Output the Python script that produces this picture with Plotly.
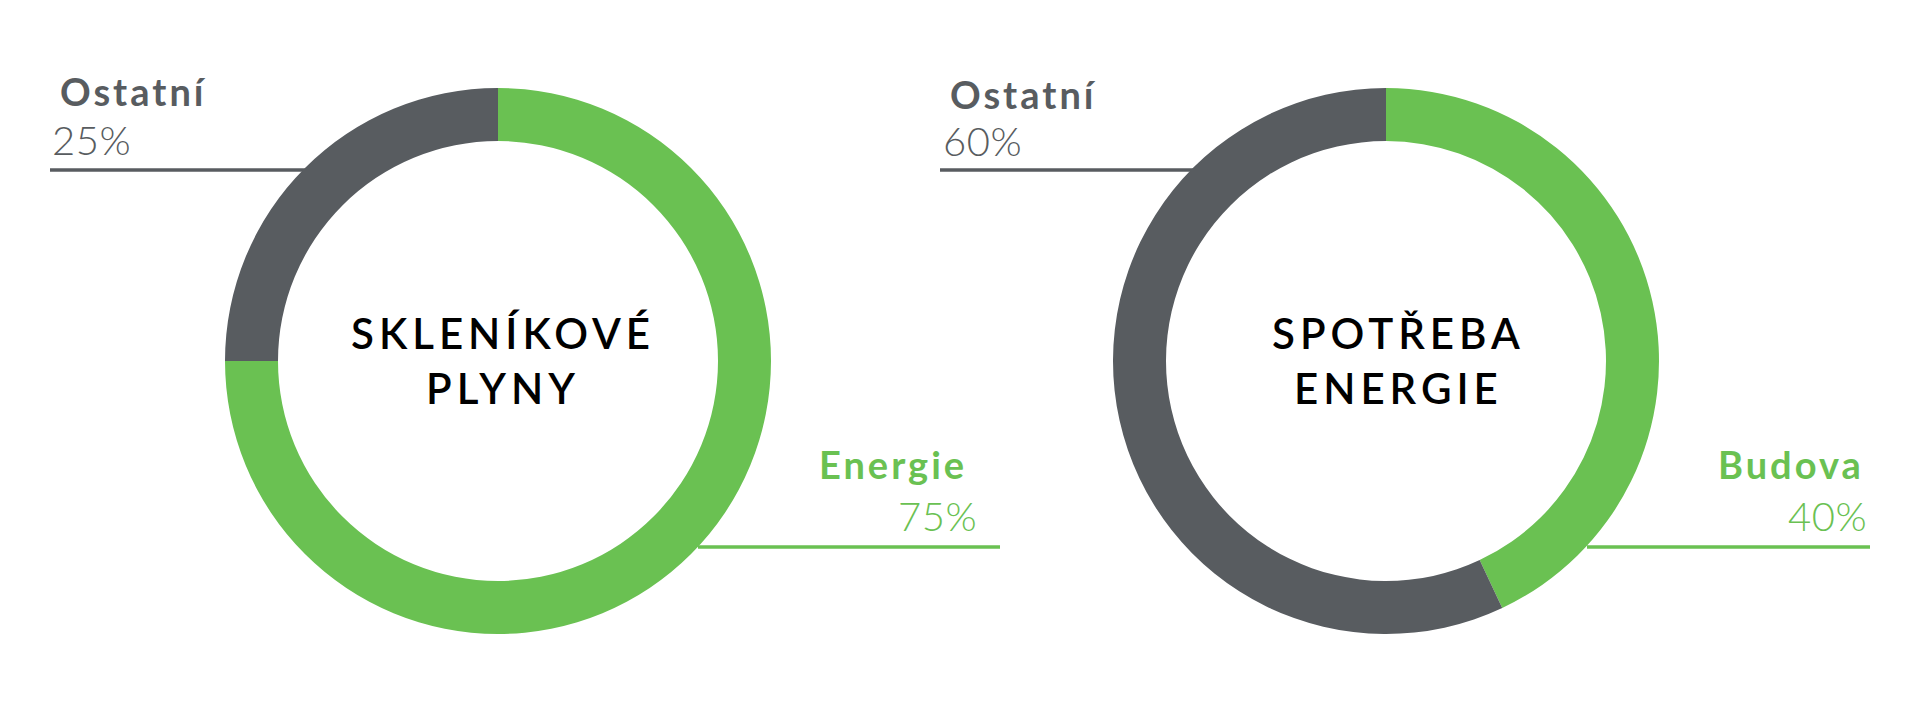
import plotly.graph_objects as go

# ---- data ----
left_labels = ["Energie", "Ostatní"]
left_values = [75, 25]
left_pct_text = ["75%", "25%"]
left_title = ["SKLENÍKOVÉ", "PLYNY"]

right_labels = ["Budova", "Ostatní"]
right_values = [43, 57]          # drawn arc proportions
right_pct_text = ["40%", "60%"]
right_title = ["SPOTŘEBA", "ENERGIE"]

GREEN = "#6AC152"
GRAY = "#585C60"
colors = [GREEN, GRAY]

OFF = 8                      # browser body margin
W, H = 1920 - 2 * OFF, 720 - 2 * OFF
R_OUT = 273
R_IN = 220


def px(x):
    return (x - OFF) / W


def py(y):
    return 1 - (y - OFF) / H


def domain(cx, cy, r):
    return dict(x=[px(cx - r), px(cx + r)], y=[py(cy + r), py(cy - r)])


LC = (498, 361)
RC = (1386, 361)

fig = go.Figure()
for (cx, cy), labels, values in [(LC, left_labels, left_values), (RC, right_labels, right_values)]:
    fig.add_trace(go.Pie(
        labels=labels, values=values, hole=R_IN / R_OUT,
        sort=False, direction="clockwise", rotation=0,
        marker=dict(colors=colors, line=dict(width=0)),
        textinfo="none", showlegend=False, hoverinfo="label+value",
        domain=domain(cx, cy, R_OUT),
    ))

FONT = "Lato"
LBL = 38
PCT = 40
LS_LBL = 3


def sp(text, ls):
    return f'<span style="letter-spacing:{ls}px">{text}</span>'


ann = []
shapes = []

# left chart labels
ann.append(dict(text=sp(left_labels[1], LS_LBL), x=px(58), y=py(91), xanchor="left", yanchor="middle",
                font=dict(family=FONT, size=LBL, color=GRAY, weight=700)))
ann.append(dict(text=sp(left_pct_text[1], 0.5), x=px(50), y=py(140), xanchor="left", yanchor="middle",
                font=dict(family=FONT, size=PCT, color=GRAY, weight=300)))
ann.append(dict(text=sp(left_labels[0], LS_LBL), x=px(969), y=py(464), xanchor="right", yanchor="middle",
                font=dict(family=FONT, size=LBL, color=GREEN, weight=700)))
ann.append(dict(text=sp(left_pct_text[0], 0.5), x=px(979), y=py(516), xanchor="right", yanchor="middle",
                font=dict(family=FONT, size=PCT, color=GREEN, weight=300)))
ann.append(dict(text=sp(left_title[0], 5) + "<br>" + sp(left_title[1], 5), x=px(503), y=py(360),
                xanchor="center", yanchor="middle", align="center",
                font=dict(family=FONT, size=42, color="#000000", weight=600)))

# right chart labels
ann.append(dict(text=sp(right_labels[1], LS_LBL), x=px(948), y=py(94), xanchor="left", yanchor="middle",
                font=dict(family=FONT, size=LBL, color=GRAY, weight=700)))
ann.append(dict(text=sp(right_pct_text[1], 0.5), x=px(941), y=py(141), xanchor="left", yanchor="middle",
                font=dict(family=FONT, size=PCT, color=GRAY, weight=300)))
ann.append(dict(text=sp(right_labels[0], LS_LBL), x=px(1866), y=py(464), xanchor="right", yanchor="middle",
                font=dict(family=FONT, size=LBL, color=GREEN, weight=700)))
ann.append(dict(text=sp(right_pct_text[0], 0.5), x=px(1869), y=py(516), xanchor="right", yanchor="middle",
                font=dict(family=FONT, size=PCT, color=GREEN, weight=300)))
ann.append(dict(text=sp(right_title[0], 5) + "<br>" + sp(right_title[1], 5), x=px(1398), y=py(360),
                xanchor="center", yanchor="middle", align="center",
                font=dict(family=FONT, size=42, color="#000000", weight=600)))

for a in ann:
    a.update(xref="paper", yref="paper", showarrow=False)

# leader lines
for x0, x1, y, c in [(50, 305, 170, GRAY), (698, 1000, 547, GREEN),
                     (940, 1193, 170, GRAY), (1587, 1870, 547, GREEN)]:
    shapes.append(dict(type="line", xref="paper", yref="paper",
                       x0=px(x0), x1=px(x1), y0=py(y), y1=py(y),
                       line=dict(color=c, width=3.5)))

fig.update_layout(
    width=W, height=H, margin=dict(l=0, r=0, t=0, b=0),
    paper_bgcolor="white", plot_bgcolor="white",
    annotations=ann, shapes=shapes,
)

fig.write_html("out.html")
